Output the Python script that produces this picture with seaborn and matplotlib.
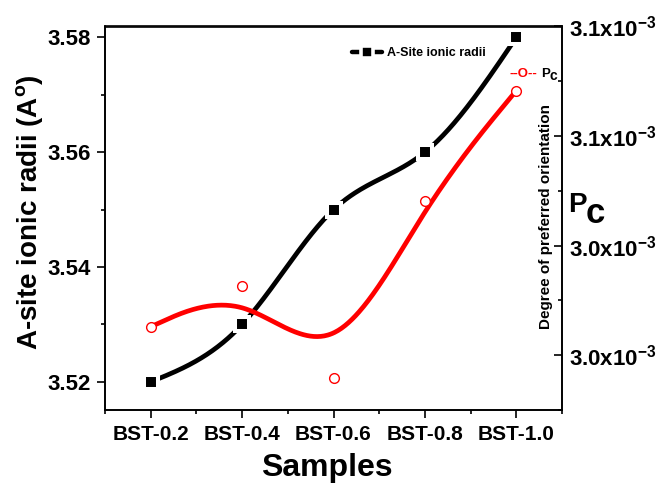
import numpy as np
import pandas as pd
import matplotlib
matplotlib.use("Agg")
import matplotlib.pyplot as plt
from matplotlib.ticker import MultipleLocator, FuncFormatter, FormatStrFormatter
from matplotlib.lines import Line2D
import seaborn as sns

# Samples and measured quantities
samples = ["BST-0.2", "BST-0.4", "BST-0.6", "BST-0.8", "BST-1.0"]
a_site_radii = [3.52, 3.53, 3.55, 3.56, 3.58]
pc_values = [3.0252e-3, 3.0327e-3, 3.0159e-3, 3.0481e-3, 3.0683e-3]

radii_ticks = [3.52, 3.54, 3.56, 3.58]
pc_ticks = [3.02e-3, 3.04e-3, 3.06e-3, 3.08e-3]

sns.set_theme(style="ticks")
plt.rcParams.update({
    "font.family": ["Liberation Sans", "DejaVu Sans"],
    "font.weight": "bold",
    "axes.labelweight": "bold",
    "mathtext.default": "regular",
    "text.color": "black",
    "axes.labelcolor": "black",
    "axes.edgecolor": "black",
    "xtick.color": "black",
    "ytick.color": "black",
})


def natural_cubic(x, y, xs):
    """Interpolating natural cubic spline through (x, y)."""
    x = np.asarray(x, float)
    y = np.asarray(y, float)
    n = len(x)
    h = np.diff(x)
    A = np.zeros((n, n))
    r = np.zeros(n)
    A[0, 0] = A[-1, -1] = 1.0
    for i in range(1, n - 1):
        A[i, i - 1] = h[i - 1]
        A[i, i] = 2 * (h[i - 1] + h[i])
        A[i, i + 1] = h[i]
        r[i] = 3 * ((y[i + 1] - y[i]) / h[i] - (y[i] - y[i - 1]) / h[i - 1])
    c = np.linalg.solve(A, r)
    b = (y[1:] - y[:-1]) / h - h * (2 * c[:-1] + c[1:]) / 3
    d = (c[1:] - c[:-1]) / (3 * h)
    idx = np.clip(np.searchsorted(x, xs) - 1, 0, n - 2)
    t = xs - x[idx]
    return y[idx] + b[idx] * t + c[idx] * t ** 2 + d[idx] * t ** 3


def bspline_curve(x, y, per_seg=80):
    """Uniform cubic B-spline using the points as control points (ends tripled)."""
    x = np.asarray(x, float)
    y = np.asarray(y, float)
    px = np.r_[x[0], x[0], x, x[-1], x[-1]]
    py = np.r_[y[0], y[0], y, y[-1], y[-1]]
    t = np.linspace(0, 1, per_seg)
    B = np.stack([(1 - t) ** 3,
                  3 * t ** 3 - 6 * t ** 2 + 4,
                  -3 * t ** 3 + 3 * t ** 2 + 3 * t + 1,
                  t ** 3]) / 6.0
    xs, ys = [], []
    for i in range(len(px) - 3):
        xs.append(B.T @ px[i:i + 4])
        ys.append(B.T @ py[i:i + 4])
    return np.concatenate(xs), np.concatenate(ys)


pos = np.arange(len(samples), dtype=float)

fig = plt.figure(figsize=(6.68, 4.84), dpi=100)
ax = fig.add_axes([105 / 668, 1 - 410 / 484, 457 / 668, 383.5 / 484])
ax2 = ax.twinx()

# A-site ionic radii: spline through the points
xs = np.linspace(pos[0], pos[-1], 400)
black_df = pd.DataFrame({"pos": xs, "radii": natural_cubic(pos, a_site_radii, xs)})
sns.lineplot(data=black_df, x="pos", y="radii", ax=ax, color="black",
             lw=3.4, sort=False, estimator=None)
ax.plot(pos, a_site_radii, ls="none", marker="s", ms=9.6,
        mfc="black", mec="white", mew=2.9, zorder=3)

# Degree of preferred orientation: B-spline smoothed curve
bx, by = bspline_curve(pos, pc_values)
red_df = pd.DataFrame({"pos": bx, "pc": by})
sns.lineplot(data=red_df, x="pos", y="pc", ax=ax2, color="red",
             lw=3.4, sort=False, estimator=None)
ax2.plot(pos, pc_values, ls="none", marker="o", ms=7.0,
         mfc="white", mec="red", mew=1.0, zorder=3)

# Axes limits and ticks
ax.set_xlim(-0.5, 4.5)
ax.set_ylim(3.5151, 3.5819)
ax2.set_ylim(3.010e-3, 3.080e-3)

ax.set_xticks(pos)
ax.set_xticklabels(samples)
ax.xaxis.set_minor_locator(MultipleLocator(0.5))
ax.set_yticks(radii_ticks)
ax.yaxis.set_minor_locator(MultipleLocator(0.01))
ax.yaxis.set_major_formatter(FormatStrFormatter("%.2f"))

ax2.set_yticks(pc_ticks)
ax2.yaxis.set_minor_locator(MultipleLocator(0.01e-3))
ax2.yaxis.set_major_formatter(
    FuncFormatter(lambda v, p: f"{v * 1e3:.1f}x10$^{{-3}}$"))

ax.tick_params(axis="x", which="major", direction="out", length=5.7, width=1.2,
               labelsize=15, pad=5, top=False)
ax.tick_params(axis="x", which="minor", direction="out", length=3, width=1.2, top=False)
ax.tick_params(axis="y", which="major", direction="out", length=5.7, width=1.2,
               labelsize=16, pad=4.5, right=False)
ax.tick_params(axis="y", which="minor", direction="out", length=3, width=1.2, right=False)
ax2.tick_params(axis="y", which="major", direction="in", length=5.7, width=1.2,
                labelsize=16, pad=5)
ax2.tick_params(axis="y", which="minor", direction="in", length=3, width=1.2)

for a in (ax, ax2):
    for sp in a.spines.values():
        sp.set_linewidth(1.2)
        sp.set_color("black")

# Axis titles
ax.set_xlabel("Samples", fontsize=23)
ax.xaxis.set_label_coords((327 - 105) / 457, (410 - 453) / 383.5)
ax.set_ylabel("A-site ionic radii (A$^o$)", fontsize=20)
ax.yaxis.set_label_coords((45 - 105) / 457, (410 - 212.5) / 383.5)
ax2.set_ylabel("")
ax.text(0.964, 0.5046, "Degree of preferred orientation", transform=ax.transAxes,
        rotation=90, ha="center", va="center", fontsize=11, fontweight="bold")
fig.text(568 / 668, 1 - 212 / 484, "P", fontsize=20, fontweight="bold",
         ha="left", va="baseline")
fig.text(586 / 668, 1 - 223 / 484, "c", fontsize=25, fontweight="bold",
         ha="left", va="baseline")

# Legend for the radii curve
h1 = Line2D([], [], color="black", lw=3.2, marker="s", ms=9.2,
            mfc="black", mec="white", mew=2.6)
ax.legend([h1], ["A-Site ionic radii"], loc="center left",
          bbox_to_anchor=(352 / 668, 1 - 53 / 484), bbox_transform=fig.transFigure,
          frameon=False, fontsize=9, handlelength=2.4, handletextpad=0.4,
          borderpad=0, borderaxespad=0)

# Legend entry for Pc, written as symbol text
fig.text(509 / 668, 1 - 77 / 484, "--O--", color="red", fontsize=9.5,
         fontweight="bold", ha="left", va="baseline")
fig.text(541 / 668, 1 - 77 / 484, "P", color="black", fontsize=9.5,
         fontweight="bold", ha="left", va="baseline")
fig.text(549 / 668, 1 - 80 / 484, "c", color="black", fontsize=10,
         fontweight="bold", ha="left", va="baseline")

fig.savefig("out.png", dpi=100, facecolor="white")
